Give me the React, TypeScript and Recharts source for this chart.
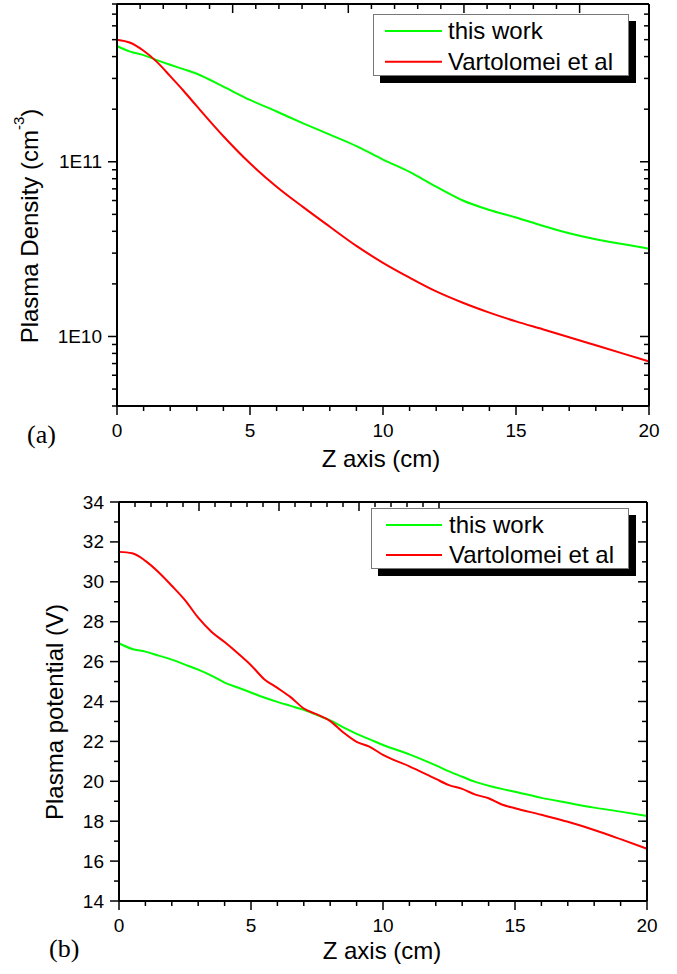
import React from 'react';
import { LineChart, Line, XAxis, YAxis, Legend } from 'recharts';

const FONT = '"Liberation Sans", Arial, Helvetica, sans-serif';
const GREEN = '#00ff00';
const RED = '#ff0000';

// (a) plasma density vs z
const zTop = [0, 0.5, 1, 1.5, 2, 2.5, 3, 4, 5, 6, 7, 8, 9, 10, 11, 12, 13, 14, 15, 16, 17, 18, 19, 20];
const densityThisWork = [4.6e11, 4.27e11, 4.08e11, 3.82e11, 3.59e11, 3.39e11, 3.19e11, 2.69e11, 2.26e11, 1.94e11, 1.66e11, 1.43e11, 1.23e11, 1.03e11, 8.75e10, 7.2e10, 6.0e10, 5.3e10, 4.8e10, 4.3e10, 3.9e10, 3.6e10, 3.38e10, 3.18e10];
const densityVartolomei = [5.0e11, 4.8e11, 4.32e11, 3.73e11, 3.09e11, 2.55e11, 2.08e11, 1.4e11, 9.8e10, 7.2e10, 5.5e10, 4.25e10, 3.3e10, 2.64e10, 2.17e10, 1.81e10, 1.56e10, 1.37e10, 1.22e10, 1.1e10, 9.9e9, 8.9e9, 8.0e9, 7.2e9];

// (b) plasma potential vs z
const zBottom = [0, 0.5, 1, 1.5, 2, 2.5, 3, 3.5, 4, 4.5, 5, 5.5, 6, 6.5, 7, 7.5, 8, 8.5, 9, 9.5, 10, 11, 12, 12.5, 13, 13.5, 14, 14.5, 15, 16, 17, 18, 19, 20];
const potentialThisWork = [26.92, 26.63, 26.5, 26.3, 26.1, 25.85, 25.6, 25.3, 24.95, 24.7, 24.45, 24.2, 23.98, 23.78, 23.58, 23.32, 23.05, 22.7, 22.38, 22.1, 21.82, 21.35, 20.8, 20.5, 20.23, 19.97, 19.78, 19.62, 19.48, 19.17, 18.92, 18.68, 18.48, 18.26];
const potentialVartolomei = [31.5, 31.43, 31.05, 30.48, 29.8, 29.08, 28.2, 27.5, 26.98, 26.42, 25.82, 25.12, 24.68, 24.22, 23.65, 23.35, 23.02, 22.45, 21.98, 21.73, 21.32, 20.75, 20.12, 19.81, 19.62, 19.33, 19.15, 18.84, 18.65, 18.32, 17.97, 17.56, 17.1, 16.62];

const seriesNames = ['this work', 'Vartolomei et al'];

// ticks
const zTicks = [0, 1, 2, 3, 4, 5, 6, 7, 8, 9, 10, 11, 12, 13, 14, 15, 16, 17, 18, 19, 20];
const zLabels = [0, 5, 10, 15, 20];
const densityTicks = [4e9, 5e9, 6e9, 7e9, 8e9, 9e9, 1e10, 2e10, 3e10, 4e10, 5e10, 6e10, 7e10, 8e10, 9e10, 1e11, 2e11, 3e11, 4e11, 5e11, 6e11, 7e11, 8e11];
const densityLabels = [1e10, 1e11];
const densityLabelText = ['1E10', '1E11'];
const potentialTicks = [14, 15, 16, 17, 18, 19, 20, 21, 22, 23, 24, 25, 26, 27, 28, 29, 30, 31, 32, 33, 34];
const potentialLabels = [14, 16, 18, 20, 22, 24, 26, 28, 30, 32, 34];

const densityData = zTop.map((z, i) => ({ z, thisWork: densityThisWork[i], vartolomei: densityVartolomei[i] }));
const potentialData = zBottom.map((z, i) => ({ z, thisWork: potentialThisWork[i], vartolomei: potentialVartolomei[i] }));

const findLabel = (labels: number[], v: number) =>
  labels.findIndex((l) => Math.abs(l - v) <= Math.abs(l) * 1e-6);

// horizontal axes: tick goes down from the axis (outward at bottom, inward at top)
const makeXTick = (labels: number[], showText: boolean) => (props: any) => {
  const { x, y, payload } = props;
  const major = findLabel(labels, payload.value) >= 0;
  return (
    <g>
      <line x1={x} y1={y} x2={x} y2={y + (major ? 9 : 5)} stroke="#000" strokeWidth={1.5} />
      {showText && major && (
        <text x={x} y={y + 31} textAnchor="middle" fontSize={19} fontFamily={FONT} fill="#000">
          {payload.value}
        </text>
      )}
    </g>
  );
};

// vertical axes: tick goes left from the axis (outward at left, inward at right)
const makeYTick = (labels: number[], text: string[] | null) => (props: any) => {
  const { x, y, payload } = props;
  const idx = findLabel(labels, payload.value);
  const major = idx >= 0;
  return (
    <g>
      <line x1={x} y1={y} x2={x - (major ? 9 : 5)} y2={y} stroke="#000" strokeWidth={1.5} />
      {text !== null && major && (
        <text x={x - 15} y={y + 6.5} textAnchor="end" fontSize={19} fontFamily={FONT} fill="#000">
          {text.length ? text[idx] : payload.value}
        </text>
      )}
    </g>
  );
};

const makeLegend = (w: number, h: number, lineX1: number, lineX2: number, textX: number, lineYs: number[], textYs: number[]) =>
  (props: any) => {
    const items = [...(props.payload || [])].sort(
      (a: any, b: any) => seriesNames.indexOf(a.value) - seriesNames.indexOf(b.value)
    );
    return (
      <svg width={w + 7} height={h + 7} style={{ display: 'block' }}>
        <rect x={7} y={7} width={w} height={h} fill="#000" />
        <rect x={0.5} y={0.5} width={w - 1} height={h - 1} fill="#fff" stroke="#777" strokeWidth={1} />
        {items.map((it: any, i: number) => (
          <g key={it.value}>
            <line x1={lineX1} x2={lineX2} y1={lineYs[i]} y2={lineYs[i]} stroke={it.color} strokeWidth={2} />
            <text x={textX} y={textYs[i]} fontSize={24} fontFamily={FONT} fill="#000">{it.value}</text>
          </g>
        ))}
      </svg>
    );
  };

const RotatedTitle = ({ px, py, children }: any) => (
  <text x={px} y={py} transform={`rotate(-90, ${px}, ${py})`} textAnchor="middle" fontSize={24} fontFamily={FONT} fill="#000">
    {children}
  </text>
);

const XTitle = ({ px, py }: any) => (
  <text x={px} y={py} textAnchor="middle" fontSize={24} fontFamily={FONT} fill="#000">Z axis (cm)</text>
);

const axisLine = { stroke: '#000', strokeWidth: 2 };

const App = () => {
  return (
    <div style={{ position: 'absolute', left: 0, top: 0, width: 677, height: 974, background: '#fff', fontFamily: FONT }}>
      <div style={{ position: 'absolute', left: 0, top: 0 }}>
        <LineChart width={677} height={480} data={densityData} margin={{ top: 3, right: 27, bottom: 0, left: 0 }}>
          <XAxis dataKey="z" type="number" domain={[0, 20]} ticks={zTicks} interval={0} height={74}
            axisLine={axisLine} tickLine={false} tickSize={0} tickMargin={0}
            tick={makeXTick(zLabels, true)} label={<XTitle px={381} py={467} />} />
          <XAxis xAxisId="frame" orientation="top" type="number" domain={[0, 20]} ticks={zTicks} interval={0} height={1}
            axisLine={axisLine} tickLine={false} tickSize={0} tickMargin={0} tick={makeXTick(zLabels, false)} />
          <YAxis type="number" scale="log" domain={[4e9, 8e11]} allowDataOverflow ticks={densityTicks} interval={0} width={117}
            axisLine={axisLine} tickLine={false} tickSize={0} tickMargin={0}
            tick={makeYTick(densityLabels, densityLabelText)}
            label={
              <RotatedTitle px={37.5} py={226}>
                Plasma Density (cm<tspan dy={-14} fontSize={15}>-3</tspan><tspan dy={14}>)</tspan>
              </RotatedTitle>
            } />
          <YAxis yAxisId="frame" orientation="right" type="number" scale="log" domain={[4e9, 8e11]} allowDataOverflow ticks={densityTicks} interval={0} width={1}
            axisLine={axisLine} tickLine={false} tickSize={0} tickMargin={0} tick={makeYTick(densityLabels, null)} />
          <Line type="monotone" dataKey="thisWork" name="this work" stroke={GREEN} strokeWidth={2} dot={false} isAnimationActive={false} />
          <Line type="monotone" dataKey="vartolomei" name="Vartolomei et al" stroke={RED} strokeWidth={2} dot={false} isAnimationActive={false} />
          <Legend layout="vertical" align="center" verticalAlign="middle"
            wrapperStyle={{ left: 373, top: 14, width: 263, height: 69 }}
            content={makeLegend(256, 62, 12, 69, 75, [17, 47.7], [25.3, 56])} />
        </LineChart>
      </div>
      <div style={{ position: 'absolute', left: 27, top: 421.5, fontFamily: '"Liberation Serif", "Times New Roman", serif', fontSize: 26, lineHeight: 1 }}>(a)</div>

      <div style={{ position: 'absolute', left: 0, top: 480 }}>
        <LineChart width={677} height={494} data={potentialData} margin={{ top: 21, right: 29, bottom: 0, left: 0 }}>
          <XAxis dataKey="z" type="number" domain={[0, 20]} ticks={zTicks} interval={0} height={73}
            axisLine={axisLine} tickLine={false} tickSize={0} tickMargin={0}
            tick={makeXTick(zLabels, true)} label={<XTitle px={382} py={479} />} />
          <XAxis xAxisId="frame" orientation="top" type="number" domain={[0, 20]} ticks={zTicks} interval={0} height={1}
            axisLine={axisLine} tickLine={false} tickSize={0} tickMargin={0} tick={makeXTick(zLabels, false)} />
          <YAxis type="number" domain={[14, 34]} allowDataOverflow ticks={potentialTicks} interval={0} width={119}
            axisLine={axisLine} tickLine={false} tickSize={0} tickMargin={0}
            tick={makeYTick(potentialLabels, [])}
            label={<RotatedTitle px={62.5} py={232}>Plasma potential (V)</RotatedTitle>} />
          <YAxis yAxisId="frame" orientation="right" type="number" domain={[14, 34]} allowDataOverflow ticks={potentialTicks} interval={0} width={1}
            axisLine={axisLine} tickLine={false} tickSize={0} tickMargin={0} tick={makeYTick(potentialLabels, null)} />
          <Line type="monotone" dataKey="thisWork" name="this work" stroke={GREEN} strokeWidth={2} dot={false} isAnimationActive={false} />
          <Line type="monotone" dataKey="vartolomei" name="Vartolomei et al" stroke={RED} strokeWidth={2} dot={false} isAnimationActive={false} />
          <Legend layout="vertical" align="center" verticalAlign="middle"
            wrapperStyle={{ left: 371, top: 28, width: 265, height: 68 }}
            content={makeLegend(258, 61, 15, 71, 78, [17, 47], [25, 55])} />
        </LineChart>
      </div>
      <div style={{ position: 'absolute', left: 49, top: 935.5, fontFamily: '"Liberation Serif", "Times New Roman", serif', fontSize: 26, lineHeight: 1 }}>(b)</div>
    </div>
  );
};

export default App;
